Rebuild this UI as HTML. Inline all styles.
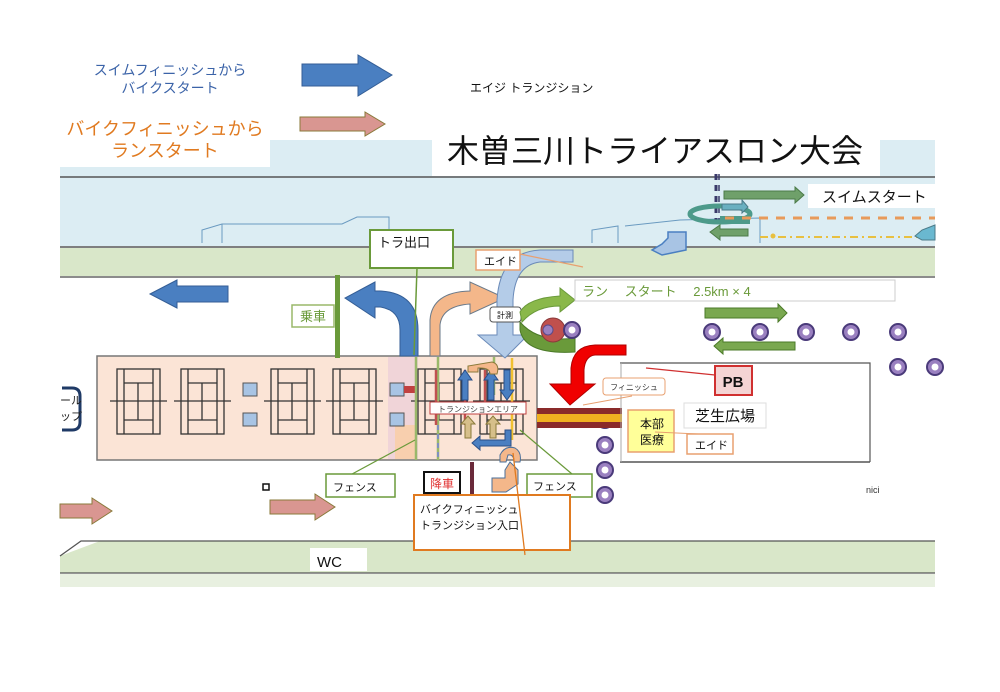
<!DOCTYPE html>
<html><head><meta charset="utf-8"><style>
html,body{margin:0;padding:0;background:#fff;}
svg{display:block;}
text{font-family:"Liberation Sans","Noto Sans CJK JP",sans-serif;}
</style></head><body>
<svg width="1000" height="692" viewBox="0 0 1000 692" xmlns="http://www.w3.org/2000/svg">
<rect x="270" y="140" width="665" height="38" fill="#dcedf3"/>
<rect x="60" y="167" width="210" height="11" fill="#dcedf3"/>
<rect x="432" y="130" width="448" height="46" fill="#fff"/>
<line x1="60" y1="177" x2="935" y2="177" stroke="#555" stroke-width="1.5"/>
<rect x="60" y="178" width="875" height="68" fill="#dcedf3"/>
<line x1="60" y1="247" x2="935" y2="247" stroke="#555" stroke-width="1.5"/>
<rect x="60" y="248" width="875" height="28" fill="#d9e7c9"/>
<line x1="60" y1="277" x2="935" y2="277" stroke="#666" stroke-width="1.5"/>
<polyline points="202,243 202,230 222,224 342,224 357,217 389,217 389,240" fill="none" stroke="#6a9ac0" stroke-width="1"/>
<line x1="222" y1="224" x2="222" y2="243" stroke="#6a9ac0"/>
<polyline points="592,243 592,230 618,226 618,243" fill="none" stroke="#6a9ac0"/>
<polyline points="625,226 680,220 760,218 760,243" fill="none" stroke="#6a9ac0"/>

<!-- bottom band (behind) -->
<polygon points="60,556 100,541 935,541 935,573 60,573" fill="#d9e7c9"/>
<polyline points="60,556 81,541 935,541" fill="none" stroke="#555" stroke-width="1.3"/>
<line x1="60" y1="573" x2="935" y2="573" stroke="#555" stroke-width="1.3"/>
<rect x="60" y="574" width="875" height="13" fill="#e8f0e0"/>

<text x="170" y="75" font-size="14" fill="#3b63a8" text-anchor="middle">スイムフィニッシュから</text>
<text x="170" y="93" font-size="14" fill="#3b63a8" text-anchor="middle">バイクスタート</text>
<polygon points="302,64 358,64 358,55 392,75 358,96 358,86 302,86" fill="#4a7fc1" stroke="#345e96"/>
<text x="470" y="92" font-size="12" fill="#111">エイジ  トランジション</text>
<polygon points="300,117 365,117 365,112 385,124 365,136 365,131 300,131" fill="#d99691" stroke="#8a7a3a"/>
<text x="165" y="135" font-size="18" fill="#e07a20" text-anchor="middle">バイクフィニッシュから</text>
<text x="165" y="157" font-size="18" fill="#e07a20" text-anchor="middle">ランスタート</text>
<text x="655" y="162" font-size="32" fill="#111" text-anchor="middle">木曽三川トライアスロン大会</text>

<rect x="808" y="184" width="127" height="24" fill="#fff"/>
<text x="822" y="202" font-size="15" fill="#111">スイムスタート</text>
<line x1="716" y1="174" x2="716" y2="230" stroke="#3a3a6a" stroke-width="3" stroke-dasharray="6,5"/>
<line x1="719" y1="174" x2="719" y2="230" stroke="#3a3a6a" stroke-width="1.5" stroke-dasharray="6,5"/>
<polygon points="724,191 795,191 795,187 804,195 795,203 795,199 724,199" fill="#6fa06a" stroke="#4b7a48"/>
<ellipse cx="720" cy="214" rx="30" ry="8" fill="none" stroke="#4d9a8a" stroke-width="5"/>
<polygon points="722,204 742,204 742,200 748,207 742,213 742,210 722,210" fill="#6ab0c0" stroke="#4b7a88"/>
<rect x="720" y="216" width="30" height="8" fill="#4d9a8a"/>
<polygon points="748,229 720,229 720,225 710,232 720,240 720,236 748,236" fill="#6fa06a" stroke="#4b7a48"/>
<line x1="725" y1="218" x2="935" y2="218" stroke="#e89a5a" stroke-width="3" stroke-dasharray="9,8"/>
<line x1="760" y1="237" x2="935" y2="237" stroke="#e8c040" stroke-width="2" stroke-dasharray="8,4,2,4"/>
<circle cx="773" cy="236" r="2.5" fill="#e8c040"/>
<polygon points="935,225 922,230 915,236 922,240 935,240" fill="#6ab8d0" stroke="#4b7a88"/>
<path d="M668,238 L668,232 L686,232 L686,250 L662,255 L652,250 L662,244 Z" fill="#a8c4e4" stroke="#4a7fc1" stroke-width="1.5"/>

<rect x="97" y="356" width="440" height="104" fill="#fbe4d6" stroke="#777" stroke-width="1.5"/>
<rect x="388" y="357" width="30" height="102" fill="#f0d4d8"/>
<rect x="395" y="425" width="20" height="34" fill="#f8cfae"/>
<g stroke="#333" stroke-width="1.3" fill="none">
<g id="c"><rect x="117" y="369" width="43" height="65"/><line x1="124" y1="369" x2="124" y2="434"/><line x1="153" y1="369" x2="153" y2="434"/><line x1="124" y1="383" x2="153" y2="383"/><line x1="124" y1="420" x2="153" y2="420"/><line x1="138" y1="383" x2="138" y2="420"/><line x1="110" y1="401" x2="167" y2="401"/></g>
<use href="#c" x="64"/><use href="#c" x="154"/><use href="#c" x="216"/><use href="#c" x="301"/><use href="#c" x="363"/>
</g>
<g fill="#a8c4e4" stroke="#555"><rect x="243" y="383" width="14" height="13"/><rect x="243" y="413" width="14" height="13"/><rect x="390" y="383" width="14" height="13"/><rect x="390" y="413" width="14" height="13"/></g>
<rect x="404" y="386" width="12" height="7" fill="#c04040"/>
<g stroke="#9ab86a" stroke-width="2.5"><line x1="416" y1="357" x2="416" y2="460"/><line x1="438" y1="357" x2="438" y2="460"/><line x1="494" y1="357" x2="494" y2="395"/></g>
<g stroke="#c05050" stroke-width="2.5"><line x1="436" y1="370" x2="436" y2="425"/><line x1="465" y1="370" x2="465" y2="425"/><line x1="485" y1="370" x2="485" y2="410"/></g>
<line x1="512" y1="358" x2="512" y2="440" stroke="#f0c030" stroke-width="2.5"/>
<line x1="438" y1="425" x2="438" y2="458" stroke="#8090c0" stroke-width="2" stroke-dasharray="5,4"/>
<rect x="430" y="402" width="96" height="12" fill="#fff" stroke="#c04040"/>
<text x="478" y="412" font-size="8" fill="#444" text-anchor="middle">トランジションエリア</text>
<g fill="#4a7fc1" stroke="#2a4f88"><polygon points="462,400 462,380 458,380 465,370 472,380 468,380 468,400"/><polygon points="488,400 488,380 484,380 491,370 498,380 494,380 494,400"/><polygon points="504,370 504,390 500,390 507,400 514,390 510,390 510,370"/><polygon points="505,430 505,440 480,440 480,436 472,443 480,450 480,446 511,446 511,430"/></g>
<g fill="#d6bf8a" stroke="#8a7a3a"><polygon points="465,438 465,424 461,424 468,416 475,424 471,424 471,438"/><polygon points="490,438 490,424 486,424 493,416 500,424 496,424 496,438"/></g>
<path d="M468,372 L468,366 L492,362 Q500,364 497,374 L490,374 Q490,368 480,368 L478,368 L478,372 Z" fill="#f4b78a" stroke="#8a7a3a"/>
<path d="M500,462 L500,455 Q505,445 515,448 Q522,452 520,462 L514,462 Q514,454 508,455 L506,462 Z" fill="#f4b78a" stroke="#4a6f9a"/>
<path d="M62,388 L72,388 Q80,388 80,396 L80,422 Q80,430 72,430 L62,430" fill="#fff" stroke="#1f3a66" stroke-width="3"/>
<text x="60" y="404" font-size="11" fill="#222">ール</text>
<text x="60" y="420" font-size="11" fill="#222">ップ</text>

<polygon points="150,294 177,280 177,286 228,286 228,302 177,302 177,308" fill="#4a7fc1" stroke="#345e96"/>
<rect x="335" y="275" width="5" height="83" fill="#6a9a3a"/>
<rect x="292" y="305" width="42" height="22" fill="#fff" stroke="#9ab86a" stroke-width="1.5"/>
<text x="313" y="321" font-size="13" fill="#6a9a3a" text-anchor="middle">乗車</text>
<path d="M400,356 L400,330 Q400,310 380,307 L375,307 L375,318 L345,298 L375,282 L375,291 L380,291 Q418,293 418,330 L418,356 Z" fill="#4a7fc1" stroke="#345e96"/>
<path d="M430,356 L430,320 Q432,292 470,291 L470,282 L505,298 L470,314 L470,304 Q442,306 440,325 L440,356 Z" fill="#f4b78a" stroke="#6a7a8a"/>
<path d="M573,250 L573,262 L540,262 Q515,265 513,300 L513,335 L528,335 L505,358 L478,335 L497,335 L497,300 Q500,252 540,250 Z" fill="#b4cce8" stroke="#6a8ab8"/>
<rect x="370" y="230" width="83" height="38" fill="#fff" stroke="#6a9a3a" stroke-width="2"/>
<text x="378" y="247" font-size="13" fill="#111">トラ出口</text>
<line x1="417" y1="268" x2="414" y2="355" stroke="#6a9a3a" stroke-width="1.5"/>
<rect x="476" y="250" width="44" height="20" fill="#fff" stroke="#e8a070" stroke-width="1.5"/>
<text x="484" y="265" font-size="11" fill="#111">エイド</text>
<line x1="520" y1="254" x2="583" y2="267" stroke="#e8a070" stroke-width="1.2"/>
<rect x="490" y="307" width="31" height="15" rx="3" fill="#fff" stroke="#555"/>
<text x="505" y="318" font-size="8" fill="#111" text-anchor="middle">計測</text>
<path d="M520,312 Q528,298 560,296 L560,288 L575,300 L560,312 L560,306 Q536,306 522,322 Z" fill="#8ab84a" stroke="#6a9a3a"/>
<path d="M520,330 Q525,355 575,352 L575,338 Q538,343 520,322 Z" fill="#6a9a3a" stroke="#4b7a28"/>
<circle cx="553" cy="330" r="12" fill="#c0504d" stroke="#8a3a3a"/>
<circle cx="548" cy="330" r="5" fill="#9a80c0" stroke="#5a4a8a"/>
<rect x="575" y="280" width="320" height="21" fill="#fff" stroke="#ccc"/>
<text x="582" y="296" font-size="13" fill="#6a9a3a">ラン　 スタート　 2.5km × 4</text>
<polygon points="705,308 778,308 778,304 787,313 778,322 778,318 705,318" fill="#7aa850" stroke="#4b7a28"/>
<polygon points="795,342 723,342 723,338 714,346 723,354 723,350 795,350" fill="#7aa850" stroke="#4b7a28"/>
<g fill="#9a80c0" stroke="#4a3a7a" stroke-width="2"><circle cx="572" cy="330" r="8"/><circle cx="712" cy="332" r="8"/><circle cx="760" cy="332" r="8"/><circle cx="806" cy="332" r="8"/><circle cx="851" cy="332" r="8"/><circle cx="898" cy="332" r="8"/><circle cx="898" cy="367" r="8"/><circle cx="935" cy="367" r="8"/><circle cx="605" cy="420" r="8"/><circle cx="605" cy="445" r="8"/><circle cx="605" cy="470" r="8"/><circle cx="605" cy="495" r="8"/></g>
<g fill="#fff"><circle cx="572" cy="330" r="3.5"/><circle cx="712" cy="332" r="3.5"/><circle cx="760" cy="332" r="3.5"/><circle cx="806" cy="332" r="3.5"/><circle cx="851" cy="332" r="3.5"/><circle cx="898" cy="332" r="3.5"/><circle cx="898" cy="367" r="3.5"/><circle cx="935" cy="367" r="3.5"/><circle cx="605" cy="420" r="3.5"/><circle cx="605" cy="445" r="3.5"/><circle cx="605" cy="470" r="3.5"/><circle cx="605" cy="495" r="3.5"/></g>
<path d="M626,345 L626,355 L595,355 Q585,356 584,370 L584,384 L595,384 L570,405 L550,384 L571,384 L571,368 Q573,346 595,345 Z" fill="#f00000" stroke="#b00000"/>
<rect x="537" y="408" width="85" height="20" fill="#8a2a2a"/>
<rect x="537" y="414" width="85" height="8" fill="#f0b020"/>
<polyline points="620,363 870,363 870,462" fill="none" stroke="#555" stroke-width="1.2"/>
<line x1="620" y1="462" x2="870" y2="462" stroke="#555" stroke-width="1.5"/>
<line x1="621" y1="363" x2="621" y2="462" stroke="#aaa"/>
<line x1="646" y1="368" x2="715" y2="375" stroke="#d03030" stroke-width="1.2"/>
<rect x="715" y="366" width="37" height="29" fill="#f4d4d4" stroke="#d03030" stroke-width="2"/>
<text x="733" y="387" font-size="15" font-weight="bold" fill="#111" text-anchor="middle">PB</text>
<rect x="603" y="378" width="62" height="17" rx="3" fill="#fff" stroke="#e8a070"/>
<text x="634" y="390" font-size="8" fill="#333" text-anchor="middle">フィニッシュ</text>
<line x1="583" y1="405" x2="632" y2="396" stroke="#e8a070"/>
<rect x="684" y="403" width="82" height="25" fill="#fff" stroke="#ddd"/>
<text x="725" y="421" font-size="15" fill="#111" text-anchor="middle">芝生広場</text>
<rect x="628" y="410" width="46" height="42" fill="#ffff99" stroke="#e8a070" stroke-width="1.5"/>
<text x="640" y="428" font-size="12" fill="#111">本部</text>
<text x="640" y="444" font-size="12" fill="#111">医療</text>
<line x1="655" y1="432" x2="720" y2="435" stroke="#e8a070"/>
<rect x="687" y="434" width="46" height="20" fill="#fff" stroke="#e8a070" stroke-width="1.5"/>
<text x="695" y="449" font-size="11" fill="#111">エイド</text>
<line x1="330" y1="486" x2="415" y2="440" stroke="#6a9a3a" stroke-width="1.2"/>
<line x1="585" y1="485" x2="520" y2="430" stroke="#6a9a3a" stroke-width="1.2"/>
<rect x="326" y="474" width="69" height="23" fill="#fff" stroke="#6a9a3a" stroke-width="1.5"/>
<text x="333" y="491" font-size="11" fill="#111">フェンス</text>
<rect x="527" y="474" width="65" height="23" fill="#fff" stroke="#6a9a3a" stroke-width="1.5"/>
<text x="533" y="490" font-size="11" fill="#111">フェンス</text>
<rect x="424" y="472" width="36" height="21" fill="#fff" stroke="#111" stroke-width="2"/>
<text x="442" y="488" font-size="12" fill="#e03030" text-anchor="middle">降車</text>
<rect x="470" y="462" width="4" height="38" fill="#6a2a3a"/>
<path d="M492,492 L492,478 L505,478 L505,470 L510,462 L518,470 L518,484 L506,492 Z" fill="#f4b78a" stroke="#4a6f9a"/>
<rect x="414" y="495" width="156" height="55" fill="#fff" stroke="#e07a20" stroke-width="2"/>
<text x="420" y="513" font-size="11" fill="#111">バイクフィニッシュ</text>
<text x="420" y="529" font-size="11" fill="#111">トランジション入口</text>
<line x1="513" y1="453" x2="525" y2="555" stroke="#e07a20" stroke-width="1.3"/>
<polygon points="60,504 92,504 92,498 112,511 92,524 92,518 60,518" fill="#d99691" stroke="#8a7a3a"/>
<polygon points="270,500 315,500 315,494 335,507 315,520 315,514 270,514" fill="#d99691" stroke="#8a7a3a"/>
<rect x="263" y="484" width="6" height="6" fill="#fff" stroke="#111" stroke-width="1.5"/>
<text x="866" y="493" font-size="9" fill="#333">nici</text>
<rect x="310" y="548" width="57" height="23" fill="#fff"/>
<text x="317" y="567" font-size="15" fill="#111">WC</text>
</svg>
</body></html>
